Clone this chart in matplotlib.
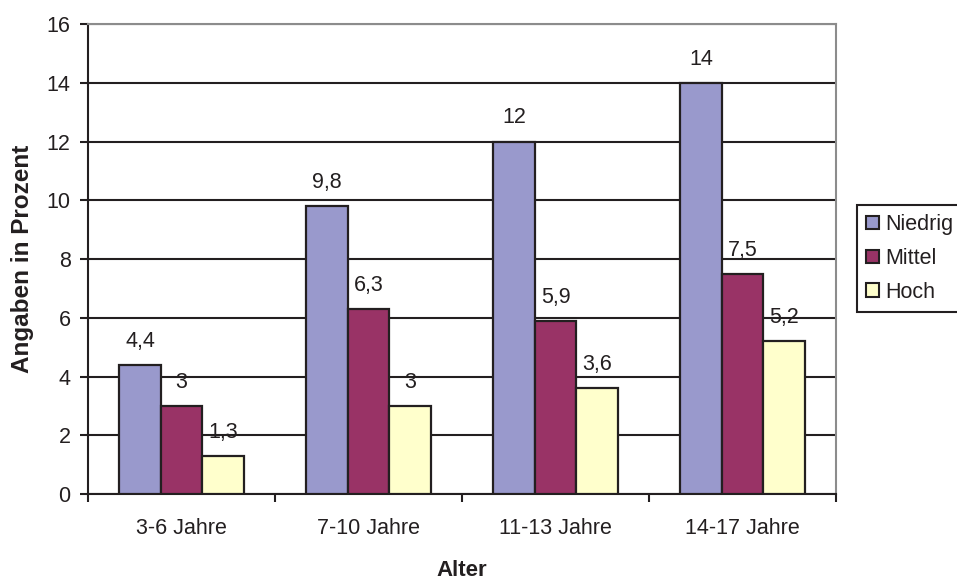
import matplotlib
matplotlib.use("Agg")
import matplotlib.pyplot as plt
import numpy as np

categories = ["3-6 Jahre", "7-10 Jahre", "11-13 Jahre", "14-17 Jahre"]
series_names = ["Niedrig", "Mittel", "Hoch"]
niedrig = [4.4, 9.8, 12, 14]
mittel = [3, 6.3, 5.9, 7.5]
hoch = [1.3, 3, 3.6, 5.2]
colors = ["#9999CC", "#993366", "#FFFFCC"]

ink = "#231f20"
fs = 15.5

plt.rcParams["font.family"] = ["Liberation Sans", "DejaVu Sans"]

fig = plt.figure(figsize=(9.57, 5.8), dpi=100)
ax = fig.add_axes([0.092, 0.148, 0.7816, 0.8106])

x = np.arange(len(categories))
width = 1 / 4.5
for i, (vals, name, col) in enumerate(zip([niedrig, mittel, hoch], series_names, colors)):
    pos = x + (i - 1) * width
    ax.bar(pos, vals, width, color=col, edgecolor=ink, linewidth=1.6,
           label=name, zorder=3)
    for p, v in zip(pos, vals):
        ax.annotate(f"{v:g}".replace(".", ","), (p, v), xytext=(0, 13),
                    textcoords="offset points", ha="center", va="baseline",
                    fontsize=fs, color=ink, zorder=4)

ax.set_xlim(-0.5, len(categories) - 0.5)
ax.set_ylim(0, 16)
ax.set_yticks(np.arange(0, 17, 2))
ax.yaxis.grid(True, color=ink, linewidth=1.5, zorder=0)
ax.set_axisbelow(True)

ax.set_xticks(x)
ax.set_xticklabels(categories, fontsize=fs, color=ink)
ax.tick_params(axis="x", length=0, pad=17)
ax.set_xticks(np.arange(-0.5, len(categories) + 0.5, 1), minor=True)
ax.tick_params(axis="x", which="minor", length=5.5, width=1.5, color=ink, direction="out")
ax.tick_params(axis="y", length=5.5, width=1.5, color=ink, labelsize=fs,
               labelcolor=ink, pad=7)

for side in ["top", "right"]:
    ax.spines[side].set_color("#8c8c8c")
    ax.spines[side].set_linewidth(1.5)
for side in ["left", "bottom"]:
    ax.spines[side].set_color(ink)
    ax.spines[side].set_linewidth(1.5)

ax.set_ylabel("Angaben in Prozent", fontsize=17.5, fontweight="bold", color=ink,
              va="center")
ax.yaxis.set_label_coords(-0.0875, 0.5)
ax.set_xlabel("Alter", fontsize=16, fontweight="bold", color=ink, va="center")
ax.xaxis.set_label_coords(0.5, -0.1617)

leg = ax.legend(loc="center left", fontsize=fs, frameon=True, fancybox=False,
                framealpha=1, edgecolor=ink, handlelength=0.6, handleheight=0.6,
                handletextpad=0.28, labelspacing=0.6, borderpad=0.42,
                borderaxespad=0)
leg.get_frame().set_linewidth(1.5)
for t in leg.get_texts():
    t.set_color(ink)
for h in leg.legend_handles:
    h.set_edgecolor(ink)
    h.set_linewidth(1.5)
leg.set_bbox_to_anchor((857 / 957, 1 - 258.5 / 580), transform=fig.transFigure)

fig.savefig("out.png", dpi=100)
